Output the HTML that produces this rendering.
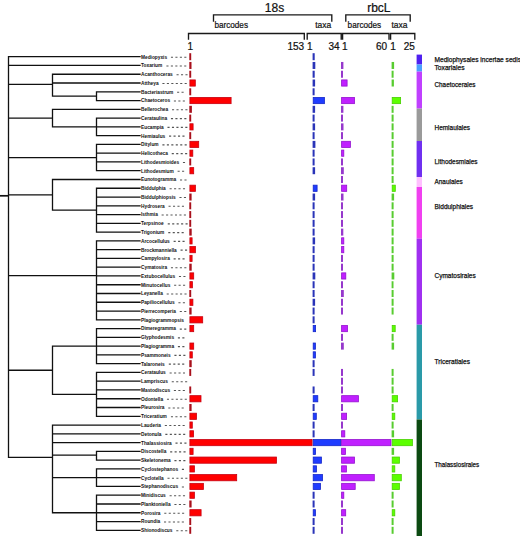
<!DOCTYPE html>
<html><head><meta charset="utf-8"><title>Diatom phylogeny</title>
<style>
html,body{margin:0;padding:0;background:#fff;}
body{width:520px;height:536px;overflow:hidden;font-family:"Liberation Sans",sans-serif;}
svg{display:block;}
</style></head><body>
<svg width="520" height="536" viewBox="0 0 520 536"><rect width="520" height="536" fill="#fff"/><path d="M8.50 56.70H140.00M8.50 65.47H140.00M52.50 74.24H140.00M52.50 83.01H140.00M96.50 91.78H140.00M96.50 100.55H140.00M52.50 109.32H140.00M96.50 118.09H140.00M96.50 126.86H140.00M96.50 135.63H140.00M96.50 144.40H140.00M96.50 153.17H140.00M96.50 161.94H140.00M96.50 170.71H140.00M52.50 179.49H140.00M96.50 188.26H140.00M96.50 197.03H140.00M96.50 205.80H140.00M96.50 214.57H140.00M96.50 223.34H140.00M96.50 232.11H140.00M96.50 240.88H140.00M96.50 249.65H140.00M96.50 258.42H140.00M96.50 267.19H140.00M96.50 275.96H140.00M96.50 284.73H140.00M96.50 293.50H140.00M96.50 302.27H140.00M96.50 311.04H140.00M96.50 319.81H140.00M96.50 328.58H140.00M96.50 337.35H140.00M96.50 346.12H140.00M96.50 354.89H140.00M96.50 363.66H140.00M96.50 372.43H140.00M96.50 381.20H140.00M96.50 389.97H140.00M96.50 398.74H140.00M96.50 407.51H140.00M96.50 416.29H140.00M52.50 425.06H140.00M52.50 433.83H140.00M52.50 442.60H140.00M96.50 451.37H140.00M96.50 460.14H140.00M96.50 468.91H140.00M96.50 477.68H140.00M96.50 486.45H140.00M96.50 495.22H140.00M96.50 503.99H140.00M96.50 512.76H140.00M96.50 521.53H140.00M96.50 530.30H140.00M96.50 91.78V100.55M52.50 96.17H96.50M52.50 74.24V96.17M8.50 84.47H52.50M96.50 118.09V135.63M52.50 126.86H96.50M52.50 109.32V126.86M8.50 118.09H52.50M96.50 144.40V170.71M8.50 157.56H96.50M96.50 188.26V232.11M52.50 210.18H96.50M52.50 179.49V210.18M8.50 194.83H52.50M96.50 240.88V319.81M8.50 275.66H96.50M96.50 328.58V363.66M52.50 346.12H96.50M96.50 372.43V416.29M52.50 394.36H96.50M52.50 346.12V394.36M8.50 370.24H52.50M96.50 451.37V460.14M52.50 455.15H96.50M96.50 468.91V486.45M52.50 477.68H96.50M96.50 495.22V530.30M52.50 512.76H96.50M52.50 425.06V512.76M8.50 457.40H52.50M8.50 56.70V457.40" stroke="#111" stroke-width="1.3" stroke-linecap="square" fill="none"/><path d="M0 195.8H8.50" stroke="#111" stroke-width="1.7" fill="none"/><g font-family="Liberation Sans" font-weight="bold" font-size="4.8" fill="#111"><text x="141" y="58.60">Mediopyxis</text><text x="141" y="67.37">Toxarium</text><text x="141" y="76.14">Acanthoceras</text><text x="141" y="84.91">Attheya</text><text x="141" y="93.68">Bacteriastrum</text><text x="141" y="102.45">Chaetoceros</text><text x="141" y="111.22">Bellerochea</text><text x="141" y="119.99">Cerataulina</text><text x="141" y="128.76">Eucampia</text><text x="141" y="137.53">Hemiaulus</text><text x="141" y="146.30">Ditylum</text><text x="141" y="155.07">Helicotheca</text><text x="141" y="163.84">Lithodesmioides</text><text x="141" y="172.61">Lithodesmium</text><text x="141" y="181.39">Eunotogramma</text><text x="141" y="190.16">Biddulphia</text><text x="141" y="198.93">Biddulphiopsis</text><text x="141" y="207.70">Hydrosera</text><text x="141" y="216.47">Isthmia</text><text x="141" y="225.24">Terpsinoe</text><text x="141" y="234.01">Trigonium</text><text x="141" y="242.78">Arcocellulus</text><text x="141" y="251.55">Brockmanniella</text><text x="141" y="260.32">Campylosira</text><text x="141" y="269.09">Cymatosira</text><text x="141" y="277.86">Extubocellulus</text><text x="141" y="286.63">Minutocellus</text><text x="141" y="295.40">Leyanella</text><text x="141" y="304.17">Papiliocellulus</text><text x="141" y="312.94">Pierrecomperia</text><text x="141" y="321.71">Plagiogrammopsis</text><text x="141" y="330.48">Dimeregramma</text><text x="141" y="339.25">Glyphodesmis</text><text x="141" y="348.02">Plagiogramma</text><text x="141" y="356.79">Psammoneis</text><text x="141" y="365.56">Talaroneis</text><text x="141" y="374.33">Cerataulus</text><text x="141" y="383.10">Lampriscus</text><text x="141" y="391.87">Mastodiscus</text><text x="141" y="400.64">Odontella</text><text x="141" y="409.41">Pleurosira</text><text x="141" y="418.19">Triceratium</text><text x="141" y="426.96">Lauderia</text><text x="141" y="435.73">Detonula</text><text x="141" y="444.50">Thalassiosira</text><text x="141" y="453.27">Discostella</text><text x="141" y="462.04">Skeletonema</text><text x="141" y="470.81">Cyclostephanos</text><text x="141" y="479.58">Cyclotella</text><text x="141" y="488.35">Stephanodiscus</text><text x="141" y="497.12">Minidiscus</text><text x="141" y="505.89">Planktoniella</text><text x="141" y="514.66">Porosira</text><text x="141" y="523.43">Roundia</text><text x="141" y="532.20">Shionodiscus</text></g><path d="M170.94 57.20h2.1M175.39 57.20h2.1M179.84 57.20h2.1M184.29 57.20h2.1M166.40 65.97h2.1M170.85 65.97h2.1M175.30 65.97h2.1M179.75 65.97h2.1M184.20 65.97h2.1M176.55 74.74h2.1M181.00 74.74h2.1M185.45 74.74h2.1M162.40 83.51h2.1M166.85 83.51h2.1M171.30 83.51h2.1M175.75 83.51h2.1M180.20 83.51h2.1M184.65 83.51h2.1M177.08 92.28h2.1M181.53 92.28h2.1M173.88 101.05h2.1M178.33 101.05h2.1M182.78 101.05h2.1M172.01 109.82h2.1M176.46 109.82h2.1M180.91 109.82h2.1M185.36 109.82h2.1M170.94 118.59h2.1M175.39 118.59h2.1M179.84 118.59h2.1M184.29 118.59h2.1M167.48 127.36h2.1M171.93 127.36h2.1M176.38 127.36h2.1M180.83 127.36h2.1M185.28 127.36h2.1M169.07 136.13h2.1M173.52 136.13h2.1M177.97 136.13h2.1M182.42 136.13h2.1M162.40 144.90h2.1M166.85 144.90h2.1M171.30 144.90h2.1M175.75 144.90h2.1M180.20 144.90h2.1M184.65 144.90h2.1M171.74 153.67h2.1M176.19 153.67h2.1M180.64 153.67h2.1M185.09 153.67h2.1M182.94 162.44h2.1M177.60 171.21h2.1M182.05 171.21h2.1M180.00 179.99h2.1M184.45 179.99h2.1M169.60 188.76h2.1M174.05 188.76h2.1M178.50 188.76h2.1M182.95 188.76h2.1M179.46 197.53h2.1M183.91 197.53h2.1M168.54 206.30h2.1M172.99 206.30h2.1M177.44 206.30h2.1M181.89 206.30h2.1M161.60 215.07h2.1M166.05 215.07h2.1M170.50 215.07h2.1M174.95 215.07h2.1M179.40 215.07h2.1M183.85 215.07h2.1M167.74 223.84h2.1M172.19 223.84h2.1M176.64 223.84h2.1M181.09 223.84h2.1M185.54 223.84h2.1M168.26 232.61h2.1M172.71 232.61h2.1M177.16 232.61h2.1M181.61 232.61h2.1M173.61 241.38h2.1M178.06 241.38h2.1M182.51 241.38h2.1M180.55 250.15h2.1M185.00 250.15h2.1M173.61 258.92h2.1M178.06 258.92h2.1M182.51 258.92h2.1M170.94 267.69h2.1M175.39 267.69h2.1M179.84 267.69h2.1M184.29 267.69h2.1M178.94 276.46h2.1M183.39 276.46h2.1M174.13 285.23h2.1M178.58 285.23h2.1M183.03 285.23h2.1M166.68 294.00h2.1M171.13 294.00h2.1M175.58 294.00h2.1M180.03 294.00h2.1M184.48 294.00h2.1M178.41 302.77h2.1M182.86 302.77h2.1M179.75 311.54h2.1M184.20 311.54h2.1M179.75 329.08h2.1M184.20 329.08h2.1M177.88 337.85h2.1M182.32 337.85h2.1M177.88 346.62h2.1M182.33 346.62h2.1M174.41 355.39h2.1M178.86 355.39h2.1M183.31 355.39h2.1M168.81 364.16h2.1M173.26 364.16h2.1M177.71 364.16h2.1M182.16 364.16h2.1M169.61 372.93h2.1M174.06 372.93h2.1M178.51 372.93h2.1M182.96 372.93h2.1M171.74 381.70h2.1M176.19 381.70h2.1M180.64 381.70h2.1M185.09 381.70h2.1M173.87 390.47h2.1M178.32 390.47h2.1M182.77 390.47h2.1M166.93 399.24h2.1M171.38 399.24h2.1M175.83 399.24h2.1M180.28 399.24h2.1M184.73 399.24h2.1M168.28 408.01h2.1M172.73 408.01h2.1M177.18 408.01h2.1M181.63 408.01h2.1M170.94 416.79h2.1M175.39 416.79h2.1M179.84 416.79h2.1M184.29 416.79h2.1M164.81 425.56h2.1M169.26 425.56h2.1M173.71 425.56h2.1M178.16 425.56h2.1M182.61 425.56h2.1M165.33 434.33h2.1M169.78 434.33h2.1M174.23 434.33h2.1M178.68 434.33h2.1M183.13 434.33h2.1M175.48 443.10h2.1M179.93 443.10h2.1M184.38 443.10h2.1M170.15 451.87h2.1M174.60 451.87h2.1M179.05 451.87h2.1M183.50 451.87h2.1M174.41 460.64h2.1M178.86 460.64h2.1M183.31 460.64h2.1M181.88 469.41h2.1M167.48 478.18h2.1M171.93 478.18h2.1M176.38 478.18h2.1M180.83 478.18h2.1M185.28 478.18h2.1M181.87 486.95h2.1M169.60 495.72h2.1M174.05 495.72h2.1M178.50 495.72h2.1M182.95 495.72h2.1M174.41 504.49h2.1M178.86 504.49h2.1M183.31 504.49h2.1M164.27 513.26h2.1M168.72 513.26h2.1M173.17 513.26h2.1M177.62 513.26h2.1M182.07 513.26h2.1M164.00 522.03h2.1M168.45 522.03h2.1M172.90 522.03h2.1M177.35 522.03h2.1M181.80 522.03h2.1M176.27 530.80h2.1M180.72 530.80h2.1M185.17 530.80h2.1" stroke="#555" stroke-width="1.1" fill="none"/><rect x="189.30" y="53.20" width="1.90" height="7.0" fill="#a8101c"/><rect x="189.30" y="61.97" width="2.20" height="7.0" fill="#a8101c"/><rect x="189.30" y="70.74" width="1.90" height="7.0" fill="#a8101c"/><rect x="189.90" y="79.91" width="5.40" height="6.2" fill="#ff0000" stroke="#c80010" stroke-width="0.8"/><rect x="189.30" y="88.28" width="1.90" height="7.0" fill="#a8101c"/><rect x="189.90" y="97.45" width="41.20" height="6.2" fill="#ff0000" stroke="#c80010" stroke-width="0.8"/><rect x="189.30" y="105.82" width="2.60" height="7.0" fill="#a8101c"/><rect x="189.30" y="114.59" width="1.90" height="7.0" fill="#a8101c"/><rect x="189.90" y="123.76" width="3.20" height="6.2" fill="#ff0000" stroke="#c80010" stroke-width="0.8"/><rect x="189.30" y="132.13" width="1.90" height="7.0" fill="#a8101c"/><rect x="189.90" y="141.30" width="8.80" height="6.2" fill="#ff0000" stroke="#c80010" stroke-width="0.8"/><rect x="189.90" y="150.07" width="2.90" height="6.2" fill="#ff0000" stroke="#c80010" stroke-width="0.8"/><rect x="189.30" y="158.44" width="1.90" height="7.0" fill="#a8101c"/><rect x="189.90" y="167.61" width="3.80" height="6.2" fill="#ff0000" stroke="#c80010" stroke-width="0.8"/><rect x="189.90" y="185.16" width="5.50" height="6.2" fill="#ff0000" stroke="#c80010" stroke-width="0.8"/><rect x="189.30" y="193.53" width="2.30" height="7.0" fill="#a8101c"/><rect x="189.30" y="202.30" width="1.90" height="7.0" fill="#a8101c"/><rect x="189.30" y="211.07" width="1.90" height="7.0" fill="#a8101c"/><rect x="189.30" y="219.84" width="1.90" height="7.0" fill="#a8101c"/><rect x="189.30" y="228.61" width="2.40" height="7.0" fill="#a8101c"/><rect x="189.90" y="237.78" width="2.20" height="6.2" fill="#ff0000" stroke="#c80010" stroke-width="0.8"/><rect x="189.90" y="246.55" width="5.50" height="6.2" fill="#ff0000" stroke="#c80010" stroke-width="0.8"/><rect x="189.90" y="255.32" width="2.20" height="6.2" fill="#ff0000" stroke="#c80010" stroke-width="0.8"/><rect x="189.30" y="263.69" width="2.40" height="7.0" fill="#a8101c"/><rect x="189.90" y="272.86" width="3.80" height="6.2" fill="#ff0000" stroke="#c80010" stroke-width="0.8"/><rect x="189.90" y="281.63" width="2.50" height="6.2" fill="#ff0000" stroke="#c80010" stroke-width="0.8"/><rect x="189.30" y="290.00" width="1.90" height="7.0" fill="#a8101c"/><rect x="189.90" y="299.17" width="3.00" height="6.2" fill="#ff0000" stroke="#c80010" stroke-width="0.8"/><rect x="189.30" y="307.54" width="2.30" height="7.0" fill="#a8101c"/><rect x="189.90" y="316.71" width="12.80" height="6.2" fill="#ff0000" stroke="#c80010" stroke-width="0.8"/><rect x="189.90" y="325.48" width="3.80" height="6.2" fill="#ff0000" stroke="#c80010" stroke-width="0.8"/><rect x="189.90" y="343.02" width="3.80" height="6.2" fill="#ff0000" stroke="#c80010" stroke-width="0.8"/><rect x="189.90" y="351.79" width="2.40" height="6.2" fill="#ff0000" stroke="#c80010" stroke-width="0.8"/><rect x="189.30" y="360.16" width="2.40" height="7.0" fill="#a8101c"/><rect x="189.30" y="368.93" width="1.90" height="7.0" fill="#a8101c"/><rect x="189.30" y="386.47" width="1.90" height="7.0" fill="#a8101c"/><rect x="189.90" y="395.64" width="11.10" height="6.2" fill="#ff0000" stroke="#c80010" stroke-width="0.8"/><rect x="189.30" y="404.01" width="2.30" height="7.0" fill="#a8101c"/><rect x="189.90" y="413.19" width="6.60" height="6.2" fill="#ff0000" stroke="#c80010" stroke-width="0.8"/><rect x="189.90" y="421.96" width="2.40" height="6.2" fill="#ff0000" stroke="#c80010" stroke-width="0.8"/><rect x="189.90" y="430.73" width="3.70" height="6.2" fill="#ff0000" stroke="#c80010" stroke-width="0.8"/><rect x="189.90" y="439.50" width="122.20" height="6.2" fill="#ff0000" stroke="#c80010" stroke-width="0.8"/><rect x="189.90" y="448.27" width="3.20" height="6.2" fill="#ff0000" stroke="#c80010" stroke-width="0.8"/><rect x="189.90" y="457.04" width="86.60" height="6.2" fill="#ff0000" stroke="#c80010" stroke-width="0.8"/><rect x="189.90" y="465.81" width="4.50" height="6.2" fill="#ff0000" stroke="#c80010" stroke-width="0.8"/><rect x="189.90" y="474.58" width="46.80" height="6.2" fill="#ff0000" stroke="#c80010" stroke-width="0.8"/><rect x="189.90" y="483.35" width="13.50" height="6.2" fill="#ff0000" stroke="#c80010" stroke-width="0.8"/><rect x="189.90" y="492.12" width="4.50" height="6.2" fill="#ff0000" stroke="#c80010" stroke-width="0.8"/><rect x="189.30" y="500.49" width="2.30" height="7.0" fill="#a8101c"/><rect x="189.90" y="509.66" width="11.20" height="6.2" fill="#ff0000" stroke="#c80010" stroke-width="0.8"/><rect x="189.30" y="518.03" width="1.90" height="7.0" fill="#a8101c"/><rect x="189.30" y="526.80" width="1.90" height="7.0" fill="#a8101c"/><rect x="312.60" y="53.20" width="2.10" height="7.0" fill="#2a34b8"/><rect x="312.60" y="61.97" width="2.70" height="7.0" fill="#2a34b8"/><rect x="312.60" y="70.74" width="2.10" height="7.0" fill="#2a34b8"/><rect x="312.60" y="79.51" width="2.50" height="7.0" fill="#2a34b8"/><rect x="312.60" y="88.28" width="2.00" height="7.0" fill="#2a34b8"/><rect x="313.20" y="97.45" width="11.20" height="6.2" fill="#1f3cff" stroke="#1426c8" stroke-width="0.8"/><rect x="312.60" y="105.82" width="2.50" height="7.0" fill="#2a34b8"/><rect x="312.60" y="114.59" width="2.00" height="7.0" fill="#2a34b8"/><rect x="312.60" y="123.36" width="2.50" height="7.0" fill="#2a34b8"/><rect x="312.60" y="132.13" width="2.00" height="7.0" fill="#2a34b8"/><rect x="312.60" y="140.90" width="2.80" height="7.0" fill="#2a34b8"/><rect x="312.60" y="149.67" width="2.00" height="7.0" fill="#2a34b8"/><rect x="312.60" y="158.44" width="2.00" height="7.0" fill="#2a34b8"/><rect x="312.60" y="167.21" width="2.50" height="7.0" fill="#2a34b8"/><rect x="313.20" y="185.16" width="3.90" height="6.2" fill="#1f3cff" stroke="#1426c8" stroke-width="0.8"/><rect x="312.60" y="193.53" width="2.50" height="7.0" fill="#2a34b8"/><rect x="312.60" y="202.30" width="2.00" height="7.0" fill="#2a34b8"/><rect x="312.60" y="211.07" width="2.00" height="7.0" fill="#2a34b8"/><rect x="312.60" y="219.84" width="2.00" height="7.0" fill="#2a34b8"/><rect x="312.60" y="228.61" width="2.00" height="7.0" fill="#2a34b8"/><rect x="312.60" y="237.38" width="2.50" height="7.0" fill="#2a34b8"/><rect x="312.60" y="246.15" width="2.00" height="7.0" fill="#2a34b8"/><rect x="312.60" y="254.92" width="2.00" height="7.0" fill="#2a34b8"/><rect x="312.60" y="263.69" width="2.00" height="7.0" fill="#2a34b8"/><rect x="312.60" y="272.46" width="2.70" height="7.0" fill="#2a34b8"/><rect x="312.60" y="281.23" width="2.00" height="7.0" fill="#2a34b8"/><rect x="312.60" y="290.00" width="2.00" height="7.0" fill="#2a34b8"/><rect x="312.60" y="298.77" width="2.50" height="7.0" fill="#2a34b8"/><rect x="312.60" y="307.54" width="2.00" height="7.0" fill="#2a34b8"/><rect x="312.60" y="316.31" width="2.00" height="7.0" fill="#2a34b8"/><rect x="313.20" y="325.48" width="2.40" height="6.2" fill="#1f3cff" stroke="#1426c8" stroke-width="0.8"/><rect x="313.20" y="343.02" width="2.20" height="6.2" fill="#1f3cff" stroke="#1426c8" stroke-width="0.8"/><rect x="313.20" y="351.79" width="2.20" height="6.2" fill="#1f3cff" stroke="#1426c8" stroke-width="0.8"/><rect x="312.60" y="360.16" width="2.00" height="7.0" fill="#2a34b8"/><rect x="312.60" y="368.93" width="2.00" height="7.0" fill="#2a34b8"/><rect x="312.60" y="386.47" width="2.00" height="7.0" fill="#2a34b8"/><rect x="313.20" y="395.64" width="4.60" height="6.2" fill="#1f3cff" stroke="#1426c8" stroke-width="0.8"/><rect x="312.60" y="404.01" width="2.00" height="7.0" fill="#2a34b8"/><rect x="313.20" y="413.19" width="3.10" height="6.2" fill="#1f3cff" stroke="#1426c8" stroke-width="0.8"/><rect x="312.60" y="421.56" width="2.00" height="7.0" fill="#2a34b8"/><rect x="312.60" y="430.33" width="2.00" height="7.0" fill="#2a34b8"/><rect x="313.20" y="439.50" width="27.70" height="6.2" fill="#1f3cff" stroke="#1426c8" stroke-width="0.8"/><rect x="313.20" y="448.27" width="2.30" height="6.2" fill="#1f3cff" stroke="#1426c8" stroke-width="0.8"/><rect x="313.20" y="457.04" width="8.20" height="6.2" fill="#1f3cff" stroke="#1426c8" stroke-width="0.8"/><rect x="313.20" y="465.81" width="3.30" height="6.2" fill="#1f3cff" stroke="#1426c8" stroke-width="0.8"/><rect x="313.20" y="474.58" width="9.30" height="6.2" fill="#1f3cff" stroke="#1426c8" stroke-width="0.8"/><rect x="313.20" y="483.35" width="7.30" height="6.2" fill="#1f3cff" stroke="#1426c8" stroke-width="0.8"/><rect x="312.60" y="491.72" width="2.00" height="7.0" fill="#2a34b8"/><rect x="312.60" y="500.49" width="2.00" height="7.0" fill="#2a34b8"/><rect x="313.20" y="509.66" width="2.20" height="6.2" fill="#1f3cff" stroke="#1426c8" stroke-width="0.8"/><rect x="312.60" y="518.03" width="2.00" height="7.0" fill="#2a34b8"/><rect x="312.60" y="526.80" width="2.00" height="7.0" fill="#2a34b8"/><rect x="341.00" y="61.97" width="2.40" height="7.0" fill="#9638cc"/><rect x="341.00" y="70.74" width="2.00" height="7.0" fill="#9638cc"/><rect x="341.60" y="79.91" width="5.50" height="6.2" fill="#c020ff" stroke="#9412d0" stroke-width="0.8"/><rect x="341.60" y="97.45" width="12.90" height="6.2" fill="#c020ff" stroke="#9412d0" stroke-width="0.8"/><rect x="341.00" y="105.82" width="2.40" height="7.0" fill="#9638cc"/><rect x="341.00" y="114.59" width="2.00" height="7.0" fill="#9638cc"/><rect x="341.00" y="123.36" width="2.50" height="7.0" fill="#9638cc"/><rect x="341.00" y="132.13" width="2.00" height="7.0" fill="#9638cc"/><rect x="341.60" y="141.30" width="8.80" height="6.2" fill="#c020ff" stroke="#9412d0" stroke-width="0.8"/><rect x="341.60" y="150.07" width="2.20" height="6.2" fill="#c020ff" stroke="#9412d0" stroke-width="0.8"/><rect x="341.00" y="158.44" width="2.00" height="7.0" fill="#9638cc"/><rect x="341.00" y="167.21" width="2.80" height="7.0" fill="#9638cc"/><rect x="341.00" y="175.99" width="2.00" height="7.0" fill="#9638cc"/><rect x="341.60" y="185.16" width="5.10" height="6.2" fill="#c020ff" stroke="#9412d0" stroke-width="0.8"/><rect x="341.00" y="193.53" width="2.50" height="7.0" fill="#9638cc"/><rect x="341.00" y="202.30" width="2.00" height="7.0" fill="#9638cc"/><rect x="341.00" y="211.07" width="2.00" height="7.0" fill="#9638cc"/><rect x="341.00" y="219.84" width="2.00" height="7.0" fill="#9638cc"/><rect x="341.00" y="228.61" width="2.30" height="7.0" fill="#9638cc"/><rect x="341.60" y="237.78" width="2.20" height="6.2" fill="#c020ff" stroke="#9412d0" stroke-width="0.8"/><rect x="341.60" y="246.55" width="2.20" height="6.2" fill="#c020ff" stroke="#9412d0" stroke-width="0.8"/><rect x="341.00" y="254.92" width="2.00" height="7.0" fill="#9638cc"/><rect x="341.00" y="263.69" width="2.00" height="7.0" fill="#9638cc"/><rect x="341.60" y="272.86" width="4.20" height="6.2" fill="#c020ff" stroke="#9412d0" stroke-width="0.8"/><rect x="341.00" y="281.23" width="2.00" height="7.0" fill="#9638cc"/><rect x="341.00" y="290.00" width="2.80" height="7.0" fill="#9638cc"/><rect x="341.00" y="298.77" width="2.00" height="7.0" fill="#9638cc"/><rect x="341.00" y="307.54" width="2.00" height="7.0" fill="#9638cc"/><rect x="341.60" y="325.48" width="5.90" height="6.2" fill="#c020ff" stroke="#9412d0" stroke-width="0.8"/><rect x="341.00" y="333.85" width="2.00" height="7.0" fill="#9638cc"/><rect x="341.00" y="342.62" width="2.80" height="7.0" fill="#9638cc"/><rect x="341.00" y="368.93" width="2.00" height="7.0" fill="#9638cc"/><rect x="341.00" y="377.70" width="2.00" height="7.0" fill="#9638cc"/><rect x="341.00" y="386.47" width="2.00" height="7.0" fill="#9638cc"/><rect x="341.60" y="395.64" width="16.80" height="6.2" fill="#c020ff" stroke="#9412d0" stroke-width="0.8"/><rect x="341.00" y="404.01" width="2.00" height="7.0" fill="#9638cc"/><rect x="341.60" y="413.19" width="5.00" height="6.2" fill="#c020ff" stroke="#9412d0" stroke-width="0.8"/><rect x="341.00" y="421.56" width="2.00" height="7.0" fill="#9638cc"/><rect x="341.60" y="430.73" width="3.20" height="6.2" fill="#c020ff" stroke="#9412d0" stroke-width="0.8"/><rect x="341.60" y="439.50" width="49.40" height="6.2" fill="#c020ff" stroke="#9412d0" stroke-width="0.8"/><rect x="341.60" y="448.27" width="3.80" height="6.2" fill="#c020ff" stroke="#9412d0" stroke-width="0.8"/><rect x="341.60" y="457.04" width="12.90" height="6.2" fill="#c020ff" stroke="#9412d0" stroke-width="0.8"/><rect x="341.60" y="465.81" width="4.80" height="6.2" fill="#c020ff" stroke="#9412d0" stroke-width="0.8"/><rect x="341.60" y="474.58" width="32.70" height="6.2" fill="#c020ff" stroke="#9412d0" stroke-width="0.8"/><rect x="341.60" y="483.35" width="13.60" height="6.2" fill="#c020ff" stroke="#9412d0" stroke-width="0.8"/><rect x="341.60" y="492.12" width="2.20" height="6.2" fill="#c020ff" stroke="#9412d0" stroke-width="0.8"/><rect x="341.00" y="500.49" width="2.00" height="7.0" fill="#9638cc"/><rect x="341.60" y="509.66" width="4.10" height="6.2" fill="#c020ff" stroke="#9412d0" stroke-width="0.8"/><rect x="341.00" y="518.03" width="2.00" height="7.0" fill="#9638cc"/><rect x="341.00" y="526.80" width="2.00" height="7.0" fill="#9638cc"/><rect x="391.60" y="61.97" width="2.50" height="7.0" fill="#58cc30"/><rect x="391.60" y="70.74" width="2.00" height="7.0" fill="#58cc30"/><rect x="391.60" y="79.51" width="2.30" height="7.0" fill="#58cc30"/><rect x="392.20" y="97.45" width="8.40" height="6.2" fill="#5cff00" stroke="#48d000" stroke-width="0.8"/><rect x="391.60" y="105.82" width="2.00" height="7.0" fill="#58cc30"/><rect x="391.60" y="114.59" width="2.00" height="7.0" fill="#58cc30"/><rect x="391.60" y="123.36" width="2.00" height="7.0" fill="#58cc30"/><rect x="391.60" y="132.13" width="2.00" height="7.0" fill="#58cc30"/><rect x="391.60" y="140.90" width="2.00" height="7.0" fill="#58cc30"/><rect x="391.60" y="149.67" width="2.00" height="7.0" fill="#58cc30"/><rect x="391.60" y="158.44" width="2.00" height="7.0" fill="#58cc30"/><rect x="391.60" y="167.21" width="2.00" height="7.0" fill="#58cc30"/><rect x="391.60" y="175.99" width="2.00" height="7.0" fill="#58cc30"/><rect x="392.20" y="185.16" width="3.10" height="6.2" fill="#5cff00" stroke="#48d000" stroke-width="0.8"/><rect x="391.60" y="193.53" width="2.50" height="7.0" fill="#58cc30"/><rect x="391.60" y="202.30" width="2.00" height="7.0" fill="#58cc30"/><rect x="391.60" y="211.07" width="2.00" height="7.0" fill="#58cc30"/><rect x="391.60" y="219.84" width="2.00" height="7.0" fill="#58cc30"/><rect x="391.60" y="228.61" width="2.00" height="7.0" fill="#58cc30"/><rect x="391.60" y="237.38" width="2.00" height="7.0" fill="#58cc30"/><rect x="391.60" y="246.15" width="2.00" height="7.0" fill="#58cc30"/><rect x="391.60" y="254.92" width="2.00" height="7.0" fill="#58cc30"/><rect x="391.60" y="263.69" width="2.00" height="7.0" fill="#58cc30"/><rect x="391.60" y="272.46" width="2.70" height="7.0" fill="#58cc30"/><rect x="391.60" y="281.23" width="1.90" height="7.0" fill="#58cc30"/><rect x="391.60" y="290.00" width="2.00" height="7.0" fill="#58cc30"/><rect x="391.60" y="298.77" width="2.00" height="7.0" fill="#58cc30"/><rect x="391.60" y="307.54" width="2.00" height="7.0" fill="#58cc30"/><rect x="392.20" y="325.48" width="3.00" height="6.2" fill="#5cff00" stroke="#48d000" stroke-width="0.8"/><rect x="391.60" y="333.85" width="2.00" height="7.0" fill="#58cc30"/><rect x="391.60" y="342.62" width="2.50" height="7.0" fill="#58cc30"/><rect x="391.60" y="368.93" width="2.00" height="7.0" fill="#58cc30"/><rect x="391.60" y="377.70" width="2.00" height="7.0" fill="#58cc30"/><rect x="391.60" y="386.47" width="2.00" height="7.0" fill="#58cc30"/><rect x="392.20" y="395.64" width="5.40" height="6.2" fill="#5cff00" stroke="#48d000" stroke-width="0.8"/><rect x="391.60" y="404.01" width="2.00" height="7.0" fill="#58cc30"/><rect x="392.20" y="413.19" width="2.60" height="6.2" fill="#5cff00" stroke="#48d000" stroke-width="0.8"/><rect x="391.60" y="421.56" width="2.00" height="7.0" fill="#58cc30"/><rect x="391.60" y="430.33" width="2.50" height="7.0" fill="#58cc30"/><rect x="392.20" y="439.50" width="20.20" height="6.2" fill="#5cff00" stroke="#48d000" stroke-width="0.8"/><rect x="391.60" y="447.87" width="2.50" height="7.0" fill="#58cc30"/><rect x="392.20" y="457.04" width="7.20" height="6.2" fill="#5cff00" stroke="#48d000" stroke-width="0.8"/><rect x="392.20" y="465.81" width="2.60" height="6.2" fill="#5cff00" stroke="#48d000" stroke-width="0.8"/><rect x="392.20" y="474.58" width="9.10" height="6.2" fill="#5cff00" stroke="#48d000" stroke-width="0.8"/><rect x="392.20" y="483.35" width="7.20" height="6.2" fill="#5cff00" stroke="#48d000" stroke-width="0.8"/><rect x="391.60" y="491.72" width="2.00" height="7.0" fill="#58cc30"/><rect x="391.60" y="500.49" width="2.00" height="7.0" fill="#58cc30"/><rect x="392.20" y="509.66" width="2.60" height="6.2" fill="#5cff00" stroke="#48d000" stroke-width="0.8"/><rect x="391.60" y="518.03" width="2.00" height="7.0" fill="#58cc30"/><rect x="391.60" y="526.80" width="2.00" height="7.0" fill="#58cc30"/><rect x="416.6" y="54.6" width="5.4" height="9.90" fill="#5020f0"/><rect x="416.6" y="64.5" width="5.4" height="7.10" fill="#4aa0ff"/><rect x="416.6" y="71.6" width="5.4" height="37.00" fill="#c040ff"/><rect x="416.6" y="108.6" width="5.4" height="32.40" fill="#9a9a9a"/><rect x="416.6" y="141.0" width="5.4" height="36.00" fill="#7030f0"/><rect x="416.6" y="177.0" width="5.4" height="10.00" fill="#ffc0ff"/><rect x="416.6" y="187.0" width="5.4" height="51.60" fill="#f040f0"/><rect x="416.6" y="238.6" width="5.4" height="86.10" fill="#a030f0"/><rect x="416.6" y="324.7" width="5.4" height="94.80" fill="#2a9aa8"/><rect x="416.6" y="419.5" width="5.4" height="116.50" fill="#0c4a12"/><g font-family="Liberation Sans" font-size="6.9" fill="#111" stroke="#111" stroke-width="0.25"><text x="434.5" y="61.50" textLength="86.5" lengthAdjust="spacingAndGlyphs">Mediophysales incertae sedis</text><text x="434.5" y="69.90" textLength="30.1" lengthAdjust="spacingAndGlyphs">Toxariales</text><text x="434.5" y="87.00" textLength="40.9" lengthAdjust="spacingAndGlyphs">Chaetocerales</text><text x="434.5" y="129.80" textLength="35.5" lengthAdjust="spacingAndGlyphs">Hemiaulales</text><text x="434.5" y="164.00" textLength="43.0" lengthAdjust="spacingAndGlyphs">Lithodesmiales</text><text x="434.5" y="183.70" textLength="28.2" lengthAdjust="spacingAndGlyphs">Anaulales</text><text x="434.5" y="209.20" textLength="38.6" lengthAdjust="spacingAndGlyphs">Biddulphiales</text><text x="434.5" y="277.80" textLength="41.2" lengthAdjust="spacingAndGlyphs">Cymatosirales</text><text x="434.5" y="363.70" textLength="35.5" lengthAdjust="spacingAndGlyphs">Triceratiales</text><text x="434.5" y="466.60" textLength="44.7" lengthAdjust="spacingAndGlyphs">Thalassiosirales</text></g><path d="M213.50 21.80V14.80H331.80V21.80M345.80 21.80V14.80H410.20V21.80M188.50 39.80V33.50H304.30V39.80M307.20 39.80V33.50H341.20V39.80M342.60 39.80V33.50H389.00V39.80M390.60 39.80V33.50H414.80V39.80" stroke="#1a1a1a" stroke-width="1.35" fill="none"/><g font-family="Liberation Sans" fill="#111" stroke="#111" stroke-width="0.22"><text x="264.8" y="11.6" font-size="12">18s</text><text x="367.2" y="11.6" font-size="12">rbcL</text><text x="214.4" y="27.7" font-size="9.3" textLength="33.6" lengthAdjust="spacingAndGlyphs">barcodes</text><text x="315.2" y="27.7" font-size="9.3" textLength="16.0" lengthAdjust="spacingAndGlyphs">taxa</text><text x="347.6" y="27.7" font-size="9.3" textLength="33.6" lengthAdjust="spacingAndGlyphs">barcodes</text><text x="391.4" y="27.7" font-size="9.3" textLength="16.0" lengthAdjust="spacingAndGlyphs">taxa</text><text x="187.6" y="49.6" font-size="10">1</text><text x="287.5" y="49.6" font-size="10">153</text><text x="306.9" y="49.6" font-size="10">1</text><text x="328.4" y="49.6" font-size="10">34</text><text x="341.9" y="49.6" font-size="10">1</text><text x="375.9" y="49.6" font-size="10">60</text><text x="390.2" y="49.6" font-size="10">1</text><text x="403.8" y="49.6" font-size="10">25</text></g></svg>
</body></html>
